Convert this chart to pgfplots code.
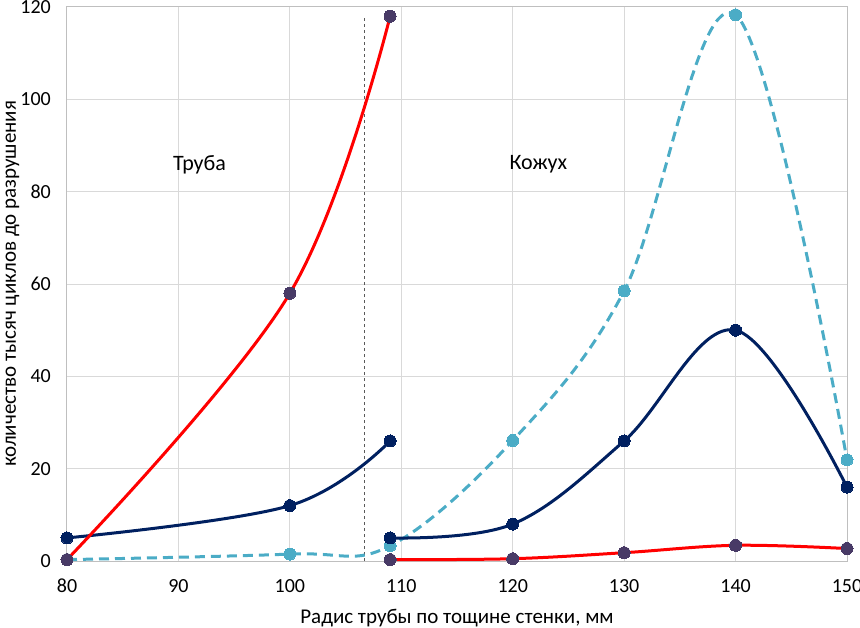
\documentclass[border=0pt]{standalone}
\usepackage{pgfplots}
\pgfplotsset{compat=1.18}
\usepackage{fontspec}
\setmainfont{Carlito}
\definecolor{myred}{RGB}{255,0,0}
\definecolor{navy}{RGB}{0,32,96}
\definecolor{aqua}{RGB}{75,172,198}
\definecolor{redmark}{RGB}{72,58,102}
\definecolor{gridgray}{RGB}{217,217,217}
\definecolor{axisgray}{RGB}{191,191,191}
\begin{document}
\begin{tikzpicture}
\begin{axis}[
  scale only axis, width=780pt, height=554pt,
  xmin=80, xmax=150, ymin=0, ymax=120,
  xtick={80,90,...,150}, ytick={0,20,...,120},
  grid=major, major grid style={draw=gridgray, line width=1pt},
  axis line style={draw=axisgray, line width=1pt},
  tick style={draw=none},
  /pgf/number format/assume math mode=true,
  ticklabel style={font=\fontsize{20}{24}\selectfont, inner sep=0pt},
  xticklabel style={anchor=base, yshift=-31pt},
  yticklabel style={anchor=base east, xshift=-16pt, yshift=-6.5pt},
  xlabel={Радис трубы по тощине стенки, мм},
  ylabel={количество тысяч циклов до разрушения},
  label style={font=\fontsize{21}{25}\selectfont, inner sep=0pt},
  xlabel style={at={(axis description cs:0.5,0)}, anchor=base, yshift=-62pt},
  ylabel style={at={(axis description cs:-0.0654,0.5)}, anchor=base},
  every axis plot/.append style={line width=3pt},
  clip=false,
]
% separator
\addplot[draw=black!65, line width=1pt, dash pattern=on 3pt off 3pt] coordinates {(106.7,0) (106.7,117.6)};
% Aqua dashed series
\addplot[aqua, smooth, tension=0.6, dash pattern=on 10pt off 6pt,
  mark=*, mark size=6pt, mark options={solid, fill=aqua, draw=aqua, line width=0pt}]
  coordinates {(80,0.3) (100,1.5) (109,3.3) (120,26.1) (130,58.5) (140,118.3) (150,21.9)};
% Navy series
\addplot[navy, smooth, tension=0.6, mark=*, mark size=6pt, mark options={fill=navy, draw=navy, line width=0pt}]
  coordinates {(80,5) (100,12) (109,26)};
\addplot[navy, smooth, tension=0.6, mark=*, mark size=6pt, mark options={fill=navy, draw=navy, line width=0pt}]
  coordinates {(109,5) (120,8) (130,26) (140,50) (150,16)};
% Red series
\addplot[myred, smooth, tension=0.6, mark=*, mark size=6pt, mark options={fill=redmark, draw=redmark, line width=0pt}]
  coordinates {(80,0.3) (100,58) (109,118)};
\addplot[myred, smooth, tension=0.6, mark=*, mark size=6pt, mark options={fill=redmark, draw=redmark, line width=0pt}]
  coordinates {(109,0.3) (120,0.5) (130,1.8) (140,3.4) (150,2.7)};
\node[font=\fontsize{22}{26}\selectfont] at (axis cs:91.9,85.8) {Труба};
\node[font=\fontsize{22}{26}\selectfont] at (axis cs:122.3,86) {Кожух};
\end{axis}
\pgfresetboundingbox
\path ([shift={(-67pt,-66pt)}]current axis.south west) rectangle ([shift={(13pt,7pt)}]current axis.north east);
\end{tikzpicture}
\end{document}
